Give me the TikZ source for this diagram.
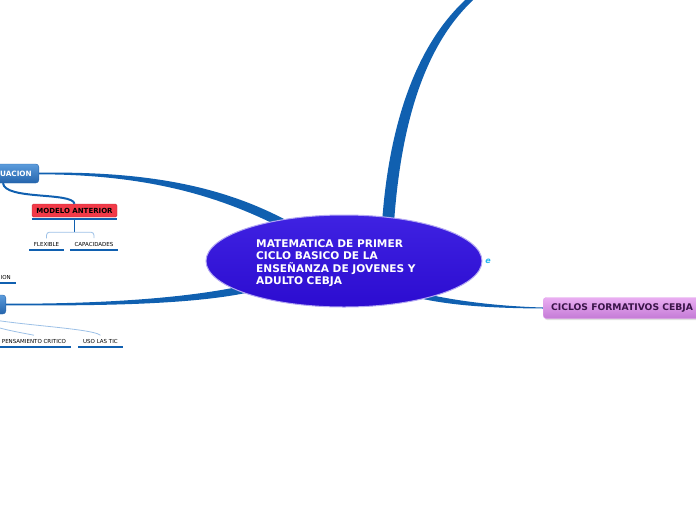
\documentclass[tikz,border=0pt]{standalone}
\usepackage{fontspec}
\setmainfont{DejaVu Sans}
\usetikzlibrary{shapes.geometric,calc,backgrounds,shadows}

\definecolor{ramaazul}{HTML}{1060B0}
\definecolor{raizarriba}{HTML}{3F22E2}
\definecolor{raizabajo}{HTML}{2C0CD0}
\definecolor{temaarriba}{HTML}{5C9CDC}
\definecolor{temaabajo}{HTML}{2464AC}
\definecolor{modelorojo}{HTML}{F23A48}
\definecolor{cicloarriba}{HTML}{EAAEF2}
\definecolor{cicloabajo}{HTML}{C47AD6}
\definecolor{ciclotexto}{HTML}{3A1448}
\definecolor{enlaceclaro}{HTML}{9CC0E6}
\definecolor{iconocian}{HTML}{22B4EE}

\tikzstyle{rama}=[fill=ramaazul]
\tikzstyle{raiz}=[ellipse, minimum width=276, minimum height=92, top color=raizarriba, bottom color=raizabajo, draw=white!60!raizarriba, line width=1]
\tikzstyle{titulo}=[text=white, align=left, inner sep=0, font=\bfseries\fontsize{10.6}{12.4}\selectfont]
\tikzstyle{tema}=[rounded corners=3, top color=temaarriba, bottom color=temaabajo, draw=temaabajo, text=white, minimum height=19, inner xsep=7, font=\bfseries\fontsize{7.3}{8}\selectfont]
\tikzstyle{idea}=[rounded corners=1.5, fill=modelorojo, draw=modelorojo!80!black, minimum width=85, minimum height=13, inner sep=0, font=\bfseries\fontsize{7}{8}\selectfont]
\tikzstyle{hoja}=[inner xsep=4.5, inner ysep=3.5, font=\fontsize{5.5}{6}\selectfont]
\tikzstyle{ciclo}=[rounded corners=3, top color=cicloarriba, bottom color=cicloabajo, draw=cicloarriba!80!cicloabajo, text=ciclotexto, minimum height=21, inner xsep=8, drop shadow={opacity=0.25, shadow xshift=1pt, shadow yshift=-1.5pt}, font=\bfseries\fontsize{9.2}{10}\selectfont]
\tikzstyle{subraya}=[draw=ramaazul, line width=2]
\tikzstyle{conector}=[draw=ramaazul, line width=2]
\tikzstyle{enlace}=[draw=enlaceclaro, line width=0.8]

\begin{document}
\begin{tikzpicture}[x=1pt, y=-1pt]
    \useasboundingbox (0,0) rectangle (696,520);
% Nodes
    \node[raiz] (root) at (344,261) {};
    \node[titulo, anchor=west] (titulo) at ($(root.center)+(-88,2)$) {MATEMATICA DE PRIMER\\CICLO BASICO DE LA\\ENSEÑANZA DE JOVENES Y\\ADULTO CEBJA};
    \node[text=iconocian, font=\bfseries\itshape\fontsize{8}{9}\selectfont] (icono) at (488,261) {e};
    \node[tema, anchor=east] (evaluacion) at (39,173.5) {EVALUACION};
    \node[tema, anchor=east, minimum width=70] (tema2) at (6,304.5) {};
    \node[idea] (modelo) at (74.5,210.5) {MODELO ANTERIOR};
    \node[hoja] (flexible) at (46.5,244) {FLEXIBLE};
    \node[hoja] (capacidades) at (94,244) {CAPACIDADES};
    \node[hoja, anchor=east] (ion) at (15.5,277) {ION};
    \node[hoja] (pensamiento) at (34,341) {PENSAMIENTO CRITICO};
    \node[hoja] (tic) at (100.5,341) {USO LAS TIC};
    \node[ciclo, anchor=west] (ciclos) at (543,308) {CICLOS FORMATIVOS CEBJA};
    \coordinate (arriba) at (476,-6);
% Branches
    \begin{scope}[on background layer]
    \fill[rama] ($(root.center)+(38,-38)$) .. controls +(7,-100) and +(-55,46) .. ($(arriba)+(-4,0)$)
        -- ($(arriba)+(4,0)$) .. controls +(-55,46) and +(7,-100) .. ($(root.center)+(50,-38)$) -- cycle;
    \fill[rama] ([yshift=0.8pt]evaluacion.east) .. controls (150,171) and (228,187) .. ($(root.center)+(-49,-36)$)
        -- ($(root.center)+(-49,-26)$) .. controls (226,197) and (150,174.5) .. ([yshift=-0.8pt]evaluacion.east) -- cycle;
    \fill[rama] ([yshift=0.8pt]tema2.east) .. controls (110,304) and (200,297) .. ($(root.center)+(-89,22)$)
        -- ($(root.center)+(-89,30)$) .. controls (200,304) and (110,306) .. ([yshift=-0.8pt]tema2.east) -- cycle;
    \fill[rama] ($(root.center)+(66,29)$) .. controls (450,301) and (500,306.3) .. ([yshift=0.5pt]ciclos.west)
        -- ([yshift=-0.5pt]ciclos.west) .. controls (500,308.2) and (450,306.5) .. ($(root.center)+(66,35)$) -- cycle;
    \end{scope}
% Underlines
    \draw[subraya] ([yshift=-2pt]modelo.south west) -- ([yshift=-2pt]modelo.south east);
    \draw[subraya] (flexible.south west) -- (flexible.south east);
    \draw[subraya] (capacidades.south west) -- (capacidades.south east);
    \draw[subraya] (ion.south west) -- (ion.south east);
    \draw[subraya] (pensamiento.south west) -- (pensamiento.south east);
    \draw[subraya] (tic.south west) -- (tic.south east);
% Connectors
    \draw[conector] ([xshift=-36pt]evaluacion.south east) .. controls +(2,17) and +(-2,-12) .. (modelo.north);
    \draw[ramaazul, line width=1] ([yshift=-3pt]modelo.south) -- ++(0,12) coordinate (bifurca);
    \draw[enlace, rounded corners=3] (flexible.north) |- (bifurca) -| (capacidades.north);
    \draw[enlace] (tema2.south) .. controls +(10,12) and +(-20,-4) .. (pensamiento.north);
    \draw[enlace] (tema2.south) .. controls +(20,10) and +(-10,-8) .. (tic.north);
\end{tikzpicture}
\end{document}
